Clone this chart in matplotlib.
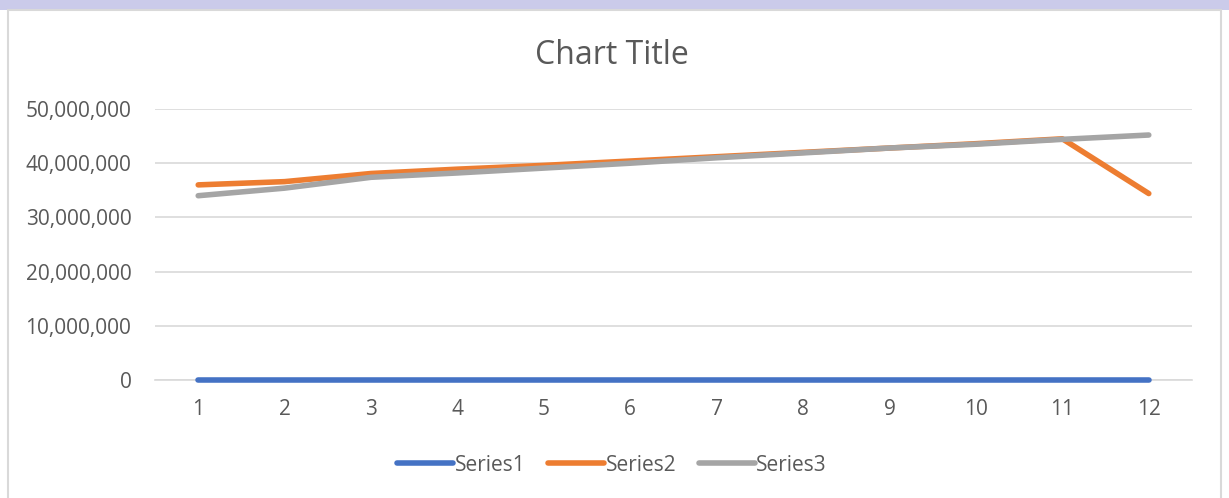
import matplotlib as mpl
mpl.use('Agg')
import matplotlib.pyplot as plt
from matplotlib.patches import Rectangle
from matplotlib.ticker import FuncFormatter

# data
months = [1, 2, 3, 4, 5, 6, 7, 8, 9, 10, 11, 12]
series1 = [0, 0, 0, 0, 0, 0, 0, 0, 0, 0, 0, 0]
series2 = [36.0e6, 36.6e6, 38.1e6, 38.9e6, 39.6e6, 40.4e6, 41.2e6, 42.0e6, 42.8e6, 43.6e6, 44.5e6, 34.4e6]
series3 = [34.0e6, 35.4e6, 37.4e6, 38.2e6, 39.1e6, 40.0e6, 41.0e6, 41.9e6, 42.8e6, 43.5e6, 44.4e6, 45.2e6]
labels = ['Series1', 'Series2', 'Series3']
colors = ['#4472C4', '#ED7D31', '#A5A5A5']

plt.rcParams['font.family'] = ['Open Sans', 'DejaVu Sans']
txt = '#595959'

fig = plt.figure(figsize=(12.29, 4.98), dpi=100)

# lavender strip of the page watermark at the top
fig.patches.append(Rectangle((0, 488 / 498), 1, 10 / 498, transform=fig.transFigure,
                             facecolor='#CBCBEA', edgecolor='none', zorder=-2))
# chart area border
fig.patches.append(Rectangle((8 / 1229, -0.01), 1213 / 1229, 488 / 498 + 0.01,
                             transform=fig.transFigure, facecolor='none',
                             edgecolor='#D9D9D9', lw=1.5, zorder=-1))

ax = fig.add_axes([155 / 1229, 118 / 498, 1037 / 1229, 271 / 498])
ax.set_facecolor('none')

for ys, lab, c in zip([series1, series2, series3], labels, colors):
    ax.plot(months, ys, color=c, lw=4, label=lab, solid_capstyle='round',
            zorder=3, clip_on=False)

ax.set_xlim(0.5, 12.5)
ax.set_ylim(0, 50e6)
ax.set_xticks(months)
ax.set_yticks([0, 10e6, 20e6, 30e6, 40e6, 50e6])
ax.yaxis.set_major_formatter(FuncFormatter(lambda v, p: '{:,.0f}'.format(v)))
ax.grid(axis='y', color='#D9D9D9', lw=1.2)
ax.set_axisbelow(True)
for s in ['top', 'right', 'left']:
    ax.spines[s].set_visible(False)
ax.spines['bottom'].set_color('#D9D9D9')
ax.spines['bottom'].set_linewidth(1.2)
ax.tick_params(axis='both', length=0, colors=txt, labelsize=15)
ax.tick_params(axis='y', pad=17)
ax.tick_params(axis='x', pad=14)

fig.text(0.498, (498 - 55) / 498, 'Chart Title', ha='center', va='center',
         fontsize=23, color=txt)

leg = fig.legend(loc='center', bbox_to_anchor=(0.498, 0.066), ncol=3, frameon=False,
                 fontsize=15, handlelength=2.7, handletextpad=0.05, columnspacing=1.1)
for t in leg.get_texts():
    t.set_color(txt)

fig.savefig('out.png', dpi=100)
